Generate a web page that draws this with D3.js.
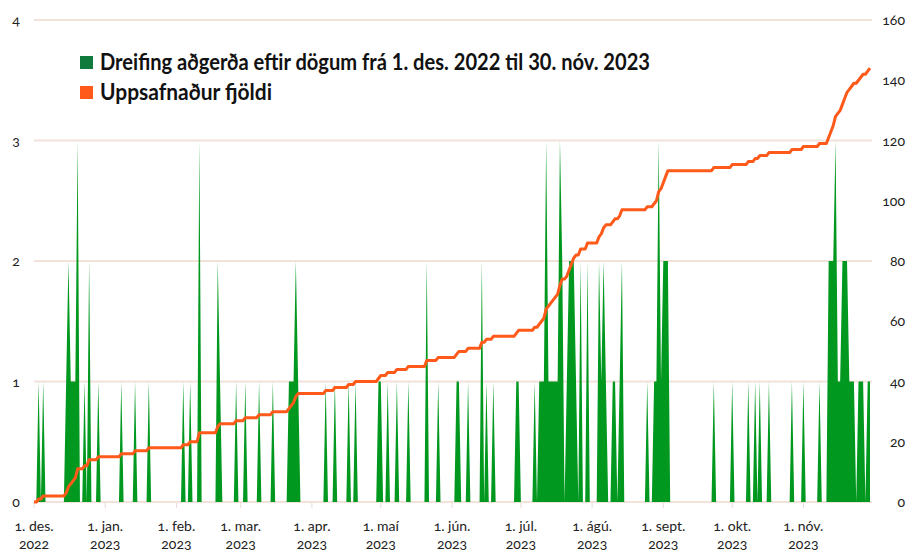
<!DOCTYPE html>
<html>
<head>
<meta charset="utf-8">
<script src="https://cdn.jsdelivr.net/npm/d3@7/dist/d3.min.js"></script>
<style>
  body { margin: 0; background: #fff; }
  svg { display: block; font-family: Lato, "Open Sans", sans-serif; }
  .lbl { font-size: 14px; fill: #222; font-variant-numeric: oldstyle-nums; }
  .leg { font-size: 22px; font-weight: 700; fill: #111; }
</style>
</head>
<body>
<div id="chart"></div>
<script>
// days counted from 1. des. 2022, and the number of cases on that day
const eventDay = [
  2, 4, 14, 15, 16, 17, 18, 19, 22, 24, 28,
  38, 44, 50,
  65, 68, 72, 80, 81, 88,
  92, 98, 104, 111, 112, 113, 114, 115,
  127, 131, 137, 140, 150,
  151, 154, 158, 163, 171, 176,
  184, 185, 189, 195, 197, 200, 210, 211,
  218, 220, 221, 222, 223, 224, 225, 226, 227, 228, 229, 230, 232, 233, 234, 235, 236, 238, 241,
  246, 247, 248, 249, 252, 253, 255, 256, 267, 270, 271, 272, 273,
  274, 275, 276, 296,
  304, 311, 314, 316, 320, 330,
  335, 342, 346, 347, 348, 349, 350, 351, 352, 353, 354, 355, 356, 357, 359, 360, 361, 363, 364
];
const eventCount = [
  1, 1, 1, 2, 1, 1, 1, 3, 1, 2, 1,
  1, 1, 1,
  1, 1, 3, 2, 1, 1,
  1, 1, 1, 1, 1, 1, 2, 1,
  1, 1, 1, 1, 1,
  1, 1, 1, 1, 2, 1,
  1, 1, 1, 2, 1, 1, 1, 1,
  1, 1, 1, 1, 3, 1, 1, 1, 1, 1, 3, 2, 1, 2, 2, 2, 1, 2, 2,
  2, 1, 2, 1, 1, 1, 1, 2, 1, 1, 1, 3, 1,
  2, 2, 2, 1,
  1, 1, 1, 1, 1, 1,
  1, 1, 2, 2, 2, 3, 1, 1, 2, 2, 2, 1, 1, 1, 1, 1, 1, 1, 1
];
const monthLabels = ["1. des.", "1. jan.", "1. feb.", "1. mar.", "1. apr.", "1. maí", "1. jún.",
                     "1. júl.", "1. ágú.", "1. sept.", "1. okt.", "1. nóv."];
const leftTicks = [0, 1, 2, 3, 4];
const rightTicks = [0, 20, 40, 60, 80, 100, 120, 140, 160];
const legendLabels = ["Dreifing aðgerða eftir dögum frá 1. des. 2022 til 30. nóv. 2023", "Uppsafnaður fjöldi"];

const width = 920, height = 551;
const start = new Date(2022, 11, 1), end = new Date(2023, 10, 30);

// one row per day, zero where nothing happened
const days = d3.timeDay.range(start, d3.timeDay.offset(end, 1));
const countByDay = new Map(eventDay.map((d, i) => [d, eventCount[i]]));
let running = 0;
const data = days.map((date, i) => {
  const count = countByDay.get(i) || 0;
  running += count;
  return {date: date, count: count, cum: running};
});

const svg = d3.select("#chart").append("svg")
    .attr("width", width)
    .attr("height", height);

const x = d3.scaleTime().domain([start, end]).range([34, 870]);
const yL = d3.scaleLinear().domain([0, 4]).range([502, 20]);
const yR = d3.scaleLinear().domain([0, 160]).range([502, 20]);

// gridlines from the left axis
svg.append("g").selectAll("line")
    .data(leftTicks)
    .enter().append("line")
    .attr("x1", 34).attr("x2", 872)
    .attr("y1", d => yL(d)).attr("y2", d => yL(d))
    .attr("stroke", "#f2e2da")
    .attr("stroke-width", 2);

const months = d3.timeMonth.range(start, end);
svg.append("g").selectAll("line")
    .data(months)
    .enter().append("line")
    .attr("x1", d => x(d)).attr("x2", d => x(d))
    .attr("y1", 503).attr("y2", 508)
    .attr("stroke", "#eadbd3")
    .attr("stroke-width", 1);

let area = d3.area()
    .x(d => x(d.date))
    .y0(yL(0))
    .y1(d => yL(d.count));

svg.append("path")
    .datum(data)
    .attr("fill", "#00981f")
    .attr("d", area);

let line = d3.line()
    .x(d => x(d.date))
    .y(d => yR(d.cum));

svg.append("path")
    .datum(data)
    .attr("fill", "none")
    .attr("stroke", "#ff5a1a")
    .attr("stroke-width", 3)
    .attr("stroke-linejoin", "round")
    .attr("d", line);

// axis labels
svg.append("g").selectAll("text")
    .data(leftTicks)
    .enter().append("text")
    .attr("class", "lbl")
    .attr("x", 16)
    .attr("y", d => yL(d) + 5)
    .attr("text-anchor", "middle")
    .text(d => d);

svg.append("g").selectAll("text")
    .data(rightTicks)
    .enter().append("text")
    .attr("class", "lbl")
    .attr("x", 905)
    .attr("y", d => yR(d) + 5)
    .attr("text-anchor", "end")
    .text(d => d);

let mlab = svg.append("g").selectAll("text")
    .data(months)
    .enter().append("text")
    .attr("class", "lbl")
    .attr("text-anchor", "middle")
    .attr("transform", d => "translate(" + x(d) + ",0)");
mlab.append("tspan").attr("x", 0).attr("y", 531).text((d, i) => monthLabels[i]);
mlab.append("tspan").attr("x", 0).attr("y", 549).text(d => d.getFullYear());

// legend
const legColors = ["#0f7a3c", "#ff5a1a"];
const legWidths = [550, 172];
let leg = svg.append("g").selectAll("g")
    .data(legendLabels)
    .enter().append("g")
    .attr("transform", (d, i) => "translate(80," + (56 + i * 30) + ")");
leg.append("rect")
    .attr("width", 13).attr("height", 13)
    .attr("fill", (d, i) => legColors[i]);
leg.append("text")
    .attr("class", "leg")
    .attr("x", 20)
    .attr("y", 14)
    .attr("textLength", (d, i) => legWidths[i])
    .attr("lengthAdjust", "spacingAndGlyphs")
    .text(d => d);
</script>
</body>
</html>
